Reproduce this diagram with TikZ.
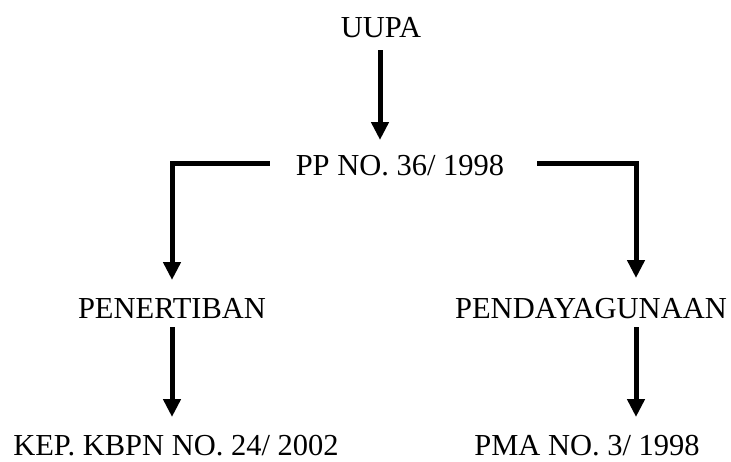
\documentclass[tikz,border=0pt]{standalone}
\usepackage{fontspec}
\setmainfont{Liberation Serif}
\usetikzlibrary{arrows.meta}
\begin{document}
\begin{tikzpicture}[x=1pt,y=-1pt,
  lbl/.style={inner sep=0pt,anchor=base,font=\fontsize{30.5}{36}\selectfont},
  arr/.style={line width=5pt,-{Triangle[width=17pt,length=18pt]},line join=miter}]
\useasboundingbox (0,0) rectangle (731,461);
\node[lbl] (uupa) at (381,37) {UUPA};
\node[lbl] (pp) at (400,175) {PP NO. 36/ 1998};
\node[lbl] (pen) at (172,318) {PENERTIBAN};
\node[lbl] (pdy) at (591,318) {PENDAYAGUNAAN};
\node[lbl] (kep) at (176,455) {KEP. KBPN NO. 24/ 2002};
\node[lbl] (pma) at (587,455) {PMA NO. 3/ 1998};
\coordinate (rx) at ([xshift=45pt]pdy.base);
\draw[arr] ([xshift=-1pt,yshift=-13pt]uupa.base) -- ([xshift=-20pt,yshift=35pt]pp.base);
\draw[arr] ([xshift=-26pt,yshift=12pt]pp.base west) -| ([yshift=38pt]pen.base);
\draw[arr] ([xshift=33pt,yshift=12pt]pp.base east) -| ([yshift=40pt]rx);
\draw[arr] ([yshift=-9pt]pen.base) -- ([yshift=38pt]kep.base -| pen.base);
\draw[arr] ([yshift=-9pt]rx) -- ([yshift=38pt]pma.base -| rx);
\end{tikzpicture}
\end{document}
